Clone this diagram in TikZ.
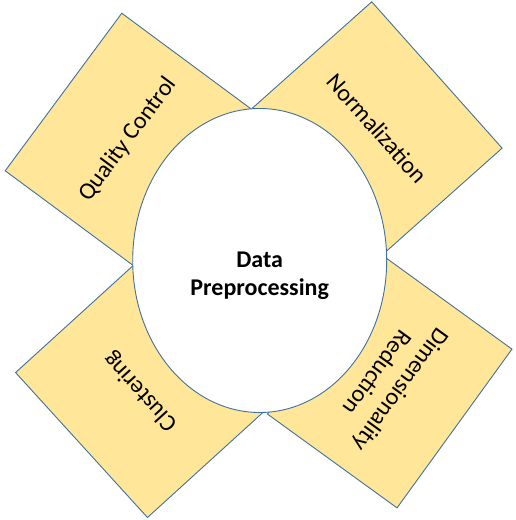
\documentclass[tikz,border=0pt]{standalone}
\usepackage{fontspec}
\setmainfont{Carlito}
\usepackage{xcolor}
\usepackage{tikz}
\usetikzlibrary{shapes.geometric,calc}

\definecolor{petal}{HTML}{FFE699}
\definecolor{rim}{HTML}{41719C}

\begin{document}
\begin{tikzpicture}[
    x=1pt,y=1pt,
    font=\fontsize{24}{29}\selectfont,
    petalbox/.style={draw=rim,fill=petal,line width=0.9pt,align=center,inner sep=0pt,minimum width=196pt,minimum height=160pt},
    hub/.style={ellipse,draw=rim,fill=white,line width=0.9pt,inner sep=0pt,minimum width=254pt,minimum height=304pt},
    hubtext/.style={font=\fontsize{24}{28}\selectfont\bfseries,align=center}
  ]
    \useasboundingbox (0,0) rectangle (515,520);

    \node[petalbox,rotate=53.5] (quality) at (127.8,380.4) {Quality Control};
    \node[petalbox,rotate=-48.3] (norm) at (377.2,391.8) {Normalization};
    \node[petalbox,rotate=132.3] (cluster) at (140.7,128.8) {Clustering};
    \node[petalbox,rotate=234.1] (dimred) at (389.7,138.4) {Dimensionality\\Reduction};

    \node[hub] (core) at (259.7,259.5) {};
    \node[hubtext] (coretxt) at ($(core.center)+(0,-15.5)$) {Data\\Preprocessing};
  \end{tikzpicture}
\end{document}
